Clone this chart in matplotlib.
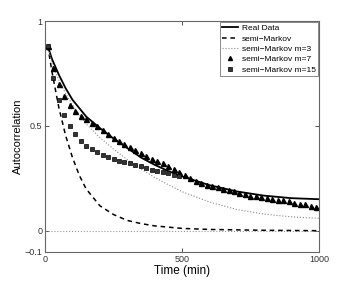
import matplotlib
matplotlib.use('Agg')
import matplotlib.pyplot as plt

plt.rcParams['font.family'] = ['Liberation Sans', 'DejaVu Sans']

# Real data
t_real = [10, 25, 50, 75, 100, 150, 200, 250, 300, 350, 400, 450, 500, 600, 700, 800, 900, 1000]
v_real = [0.88, 0.82, 0.745, 0.68, 0.625, 0.545, 0.49, 0.44, 0.395, 0.35, 0.315, 0.285, 0.26,
          0.218, 0.188, 0.168, 0.156, 0.151]

# semi-Markov
t_sm = [10, 25, 50, 75, 100, 125, 150, 200, 250, 300, 350, 400, 500, 600, 700, 800, 900, 1000]
v_sm = [0.88, 0.76, 0.59, 0.455, 0.35, 0.265, 0.2, 0.12, 0.078, 0.05, 0.035, 0.024, 0.012,
        0.007, 0.005, 0.003, 0.002, 0.001]

# semi-Markov m=3
t_m3 = [10, 25, 50, 75, 100, 150, 200, 250, 300, 350, 400, 450, 500, 600, 700, 800, 900, 1000]
v_m3 = [0.88, 0.80, 0.72, 0.655, 0.60, 0.51, 0.445, 0.39, 0.34, 0.295, 0.255, 0.22, 0.187,
        0.138, 0.102, 0.08, 0.067, 0.06]

# semi-Markov m=7 (one marker every 20 min)
t_m7 = list(range(10, 1000, 20))
v_m7 = [0.88, 0.775, 0.70, 0.645, 0.60, 0.572, 0.548, 0.532, 0.516, 0.498,
        0.479, 0.46, 0.443, 0.428, 0.413, 0.400, 0.387, 0.371, 0.358, 0.345,
        0.333, 0.322, 0.310, 0.296, 0.280, 0.266, 0.253, 0.240, 0.230, 0.221,
        0.213, 0.207, 0.200, 0.194, 0.188, 0.181, 0.174, 0.168, 0.164, 0.160,
        0.157, 0.153, 0.149, 0.145, 0.141, 0.135, 0.130, 0.126, 0.121, 0.116]

# semi-Markov m=15
t_m15 = list(range(10, 500, 20))
v_m15 = [0.88, 0.727, 0.624, 0.552, 0.501, 0.462, 0.428, 0.405, 0.388, 0.374,
         0.362, 0.352, 0.342, 0.335, 0.328, 0.322, 0.316, 0.308, 0.300, 0.292,
         0.284, 0.279, 0.274, 0.268, 0.262]

fig = plt.figure(figsize=(3.52, 2.84), dpi=100)
ax = fig.add_axes([0.128, 0.113, 0.778, 0.813])

ax.axhline(0, color='#999999', linestyle=':', linewidth=0.8)
ax.plot(t_real, v_real, color='black', linewidth=1.3, label='Real Data')
ax.plot(t_sm, v_sm, color='black', linestyle=(0, (3, 2.5)), linewidth=1.1, label='semi\u2212Markov')
ax.plot(t_m3, v_m3, color='#888888', linestyle=':', linewidth=0.8, label='semi\u2212Markov m=3')
ax.plot(t_m7, v_m7, linestyle='none', marker='^', color='black', markersize=3.6, label='semi\u2212Markov m=7')
ax.plot(t_m15, v_m15, linestyle='none', marker='s', markerfacecolor='#333333',
        markeredgecolor='black', markeredgewidth=0.5, markersize=2.8, label='semi\u2212Markov m=15')

ax.set_xlim(0, 1000)
ax.set_ylim(-0.1, 1)
ax.set_xticks([0, 500, 1000])
ax.set_yticks([-0.1, 0, 0.5, 1])
ax.set_yticklabels(['\u22120.1', '0', '0.5', '1'])
ax.tick_params(direction='in', length=3, width=0.6, labelsize=6.5, colors='#333333',
               top=True, right=True, pad=2)
for s in ax.spines.values():
    s.set_color('#666666')
    s.set_linewidth(0.8)

ax.set_xlabel('Time (min)', fontsize=8.5, labelpad=1)
ax.set_ylabel('Autocorrelation', fontsize=8, labelpad=1)

leg = ax.legend(loc='upper right', fontsize=6, frameon=True, fancybox=False,
                borderpad=0.3, labelspacing=0.3, handlelength=1.9, handletextpad=0.4,
                borderaxespad=0.1, markerscale=0.8)
leg.get_frame().set_edgecolor('#555555')
leg.get_frame().set_linewidth(0.6)

fig.savefig('out.png', dpi=100)
